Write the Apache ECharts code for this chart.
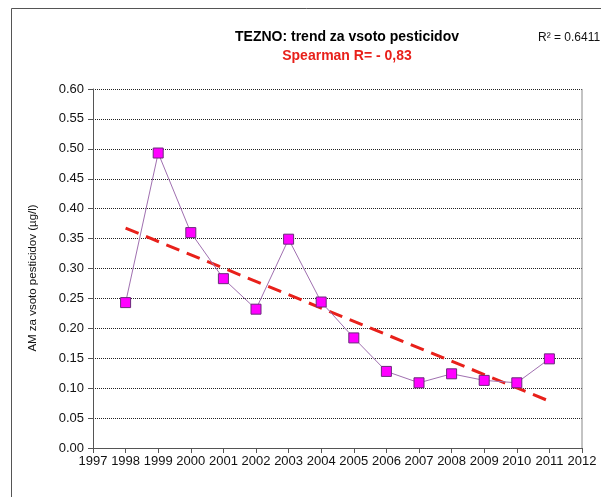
<!DOCTYPE html>
<html>
<head>
<meta charset="utf-8">
<script src="https://cdn.jsdelivr.net/npm/echarts@6/dist/echarts.min.js"></script>
<style>
  html, body { margin: 0; padding: 0; background: #fff; }
  #chart { width: 601px; height: 497px; }
</style>
</head>
<body>
<div id="chart"></div>
<script>
// Annual mean of total pesticides, Tezno monitoring site
const years = [1998, 1999, 2000, 2001, 2002, 2003, 2004, 2005, 2006, 2007, 2008, 2009, 2010, 2011];
const amValues = [0.243, 0.493, 0.360, 0.283, 0.232, 0.349, 0.244, 0.184, 0.128, 0.109, 0.124, 0.113, 0.109, 0.149];
const yTicks = ['0.00', '0.05', '0.10', '0.15', '0.20', '0.25', '0.30', '0.35', '0.40', '0.45', '0.50', '0.55', '0.60'];

// Least-squares linear trend over the measured years
function linearTrend(xs, ys) {
  const n = xs.length;
  const mx = xs.reduce((a, b) => a + b, 0) / n;
  const my = ys.reduce((a, b) => a + b, 0) / n;
  let sxy = 0, sxx = 0;
  for (let i = 0; i < n; i++) {
    sxy += (xs[i] - mx) * (ys[i] - my);
    sxx += (xs[i] - mx) * (xs[i] - mx);
  }
  const k = sxy / sxx;
  return x => my + k * (x - mx);
}
const trend = linearTrend(years, amValues);
const trendData = [[years[0], trend(years[0])], [years[years.length - 1], trend(years[years.length - 1])]];

const font = 'Liberation Sans, Arial, sans-serif';
const chart = echarts.init(document.getElementById('chart'), null, { renderer: 'canvas' });

chart.setOption({
  animation: false,
  backgroundColor: '#fff',
  graphic: [
    {
      type: 'rect', left: 11, top: 8, z: -1,
      shape: { width: 600, height: 500 },
      style: { fill: '#fff', stroke: '#555', lineWidth: 1 }
    },
    {
      type: 'text', left: 538, top: 32,
      style: { text: 'R² = 0.6411', font: '12px ' + font, fill: '#111' }
    },
    {
      type: 'text', x: 33, y: 278, rotation: Math.PI / 2,
      style: {
        text: 'AM za vsoto pesticidov (µg/l)', font: '11.5px ' + font, fill: '#111',
        align: 'center', verticalAlign: 'middle'
      }
    }
  ],
  title: {
    text: 'TEZNO: trend za vsoto pesticidov',
    subtext: 'Spearman R= - 0,83',
    left: 342, top: 25, textAlign: 'center',
    itemGap: 5,
    textStyle: { fontFamily: font, fontSize: 14, fontWeight: 'bold', color: '#000' },
    subtextStyle: { fontFamily: font, fontSize: 14, fontWeight: 'bold', color: '#e8201a' }
  },
  grid: { left: 93, top: 89, width: 489, height: 359, containLabel: false },
  xAxis: {
    type: 'value', min: 1997, max: 2012, interval: 1,
    axisLine: { show: true, lineStyle: { color: '#555', width: 1 } },
    axisTick: { show: true, inside: false, length: 5, lineStyle: { color: '#555' } },
    axisLabel: { color: '#111', fontFamily: font, fontSize: 13, margin: 7, formatter: v => String(v) },
    splitLine: { show: false }
  },
  yAxis: {
    type: 'value', min: 0, max: 0.6, interval: 0.05,
    axisLine: { show: true, lineStyle: { color: '#555', width: 1 } },
    axisTick: { show: true, inside: false, length: 5, lineStyle: { color: '#555' } },
    axisLabel: {
      color: '#111', fontFamily: font, fontSize: 13, margin: 9,
      formatter: v => yTicks[Math.round(v / 0.05)]
    },
    splitLine: { show: true, lineStyle: { color: '#222', type: [1, 1], width: 1 } }
  },
  series: [
    {
      type: 'line',
      data: trendData,
      showSymbol: false, symbol: 'none',
      lineStyle: { color: '#e8201a', width: 3, type: [14, 8] },
      z: 3
    },
    {
      type: 'line',
      data: years.map((y, i) => [y, amValues[i]]),
      symbol: 'rect', symbolSize: 10,
      itemStyle: { color: '#ff00ff', borderColor: '#6a2a7a', borderWidth: 1 },
      lineStyle: { color: '#a070b0', width: 1 },
      z: 4
    },
    {
      type: 'line', data: [[2012, 0], [2012, 0.6]],
      symbol: 'none', lineStyle: { color: '#888', width: 1 }, silent: true, z: 1
    }
  ]
});
</script>
</body>
</html>
